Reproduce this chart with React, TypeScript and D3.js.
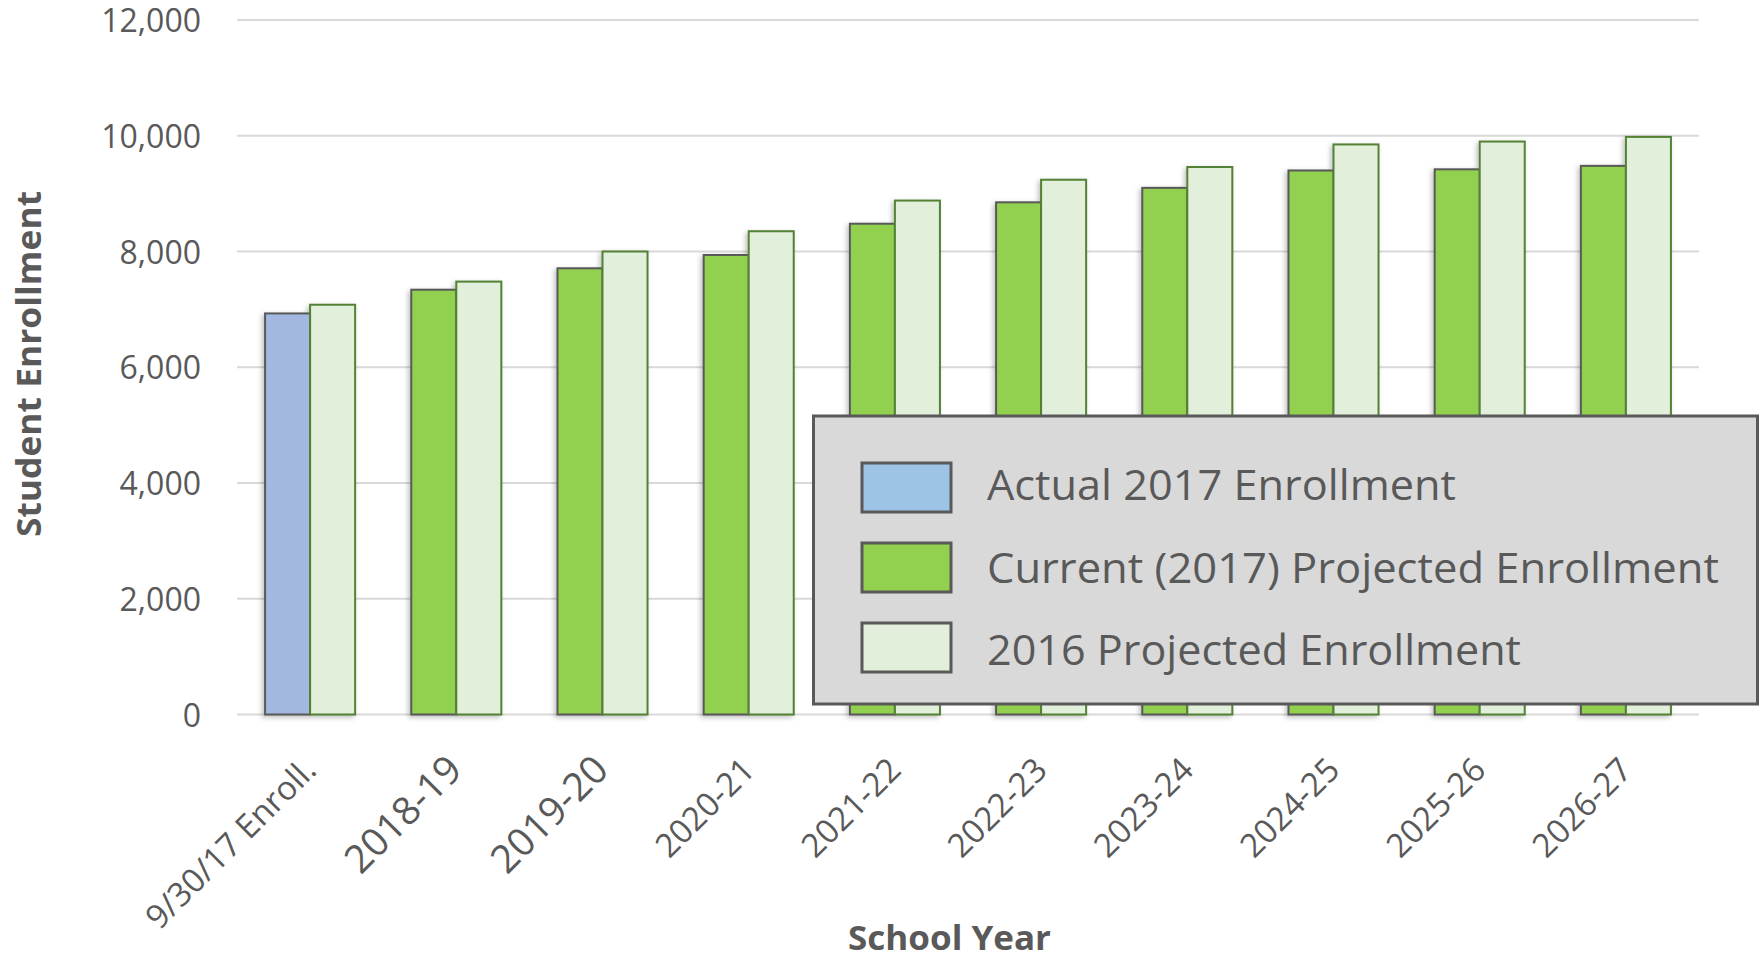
import React from "react";
import * as d3 from "d3";

const categories = ["9/30/17 Enroll.", "2018-19", "2019-20", "2020-21", "2021-22", "2022-23", "2023-24", "2024-25", "2025-26", "2026-27"];
const actual2017: (number | null)[] = [6930, null, null, null, null, null, null, null, null, null];
const current2017: (number | null)[] = [null, 7340, 7710, 7940, 8480, 8850, 9100, 9400, 9420, 9480];
const projected2016: number[] = [7080, 7480, 8000, 8350, 8880, 9240, 9460, 9850, 9900, 9980];
const yTicks = [0, 2000, 4000, 6000, 8000, 10000, 12000];
const legendLabels = ["Actual 2017 Enrollment", "Current (2017) Projected Enrollment", "2016 Projected Enrollment"];

const W = 1762, H = 961;
const left = 237, right = 1699, top = 20, bottom = 714.5;
const textColor = "#595959";

export default function App() {
  const x = d3.scaleBand<string>().domain(categories).range([left, right]).paddingInner(0.384).paddingOuter(0.192);
  const x1 = d3.scaleBand<number>().domain([0, 1]).range([0, x.bandwidth()]);
  const y = d3.scaleLinear().domain([0, 12000]).range([bottom, top]);
  const fmt = d3.format(",");

  const legendFills = ["#9dc3e6", "#92d050", "#e2efda"];
  const bigLabel = (c: string) => c === "2018-19" || c === "2019-20";

  return (
    <svg width={W} height={H} style={{ position: "absolute", left: 0, top: 0, background: "#fff" }} fontFamily="'Open Sans', sans-serif">
      <defs>
        <filter id="sh" x="-20%" y="-5%" width="140%" height="110%">
          <feDropShadow dx="-2" dy="2" stdDeviation="2.5" floodColor="#000" floodOpacity="0.25" />
        </filter>
      </defs>
      {yTicks.map((t) => (
        <g key={t}>
          <line x1={left} x2={right} y1={y(t)} y2={y(t)} stroke="#d9d9d9" strokeWidth={2} />
          <text x={201} y={y(t)} dy="0.38em" textAnchor="end" fontSize={32} fill={textColor}>{fmt(t)}</text>
        </g>
      ))}
      {categories.map((c, i) => {
        const x0 = x(c)!;
        const a = actual2017[i];
        const g = current2017[i];
        const p = projected2016[i];
        return (
          <g key={c} filter="url(#sh)">
            {a != null && (
              <rect x={x0 + x1(0)!} y={y(a)} width={x1.bandwidth()} height={y(0) - y(a)} fill="#a2b8e0" stroke="#595959" strokeWidth={2} />
            )}
            {g != null && (
              <rect x={x0 + x1(0)!} y={y(g)} width={x1.bandwidth()} height={y(0) - y(g)} fill="#92d050" stroke="#595959" strokeWidth={2} />
            )}
            <rect x={x0 + x1(1)!} y={y(p)} width={x1.bandwidth()} height={y(0) - y(p)} fill="#e2efda" stroke="#538135" strokeWidth={2} />
          </g>
        );
      })}
      {categories.map((c) => {
        const cx = x(c)! + x.bandwidth() / 2 + 8;
        return (
          <text key={c} transform={`translate(${cx},772) rotate(-45)`} textAnchor="end" fontSize={bigLabel(c) ? 39 : 33} fill={textColor}>{c}</text>
        );
      })}
      <text transform="translate(41,364) rotate(-90)" textAnchor="middle" fontSize={34} fontWeight="bold" fill={textColor} textLength={346} lengthAdjust="spacingAndGlyphs">Student Enrollment</text>
      <text x={949.5} y={950} textAnchor="middle" fontSize={34} fontWeight="bold" fill={textColor} textLength={203} lengthAdjust="spacingAndGlyphs">School Year</text>
      <g>
        <rect x={813.5} y={416} width={944} height={288} fill="#d9d9d9" stroke="#595959" strokeWidth={3} />
        {legendLabels.map((l, i) => (
          <g key={l}>
            <rect x={862} y={463 + i * 80} width={89} height={49} fill={legendFills[i]} stroke="#595959" strokeWidth={3} />
            <text x={987} y={500 + i * 82.5} fontSize={42} fill={textColor} textLength={[469, 732, 534][i]} lengthAdjust="spacingAndGlyphs">{l}</text>
          </g>
        ))}
      </g>
    </svg>
  );
}
